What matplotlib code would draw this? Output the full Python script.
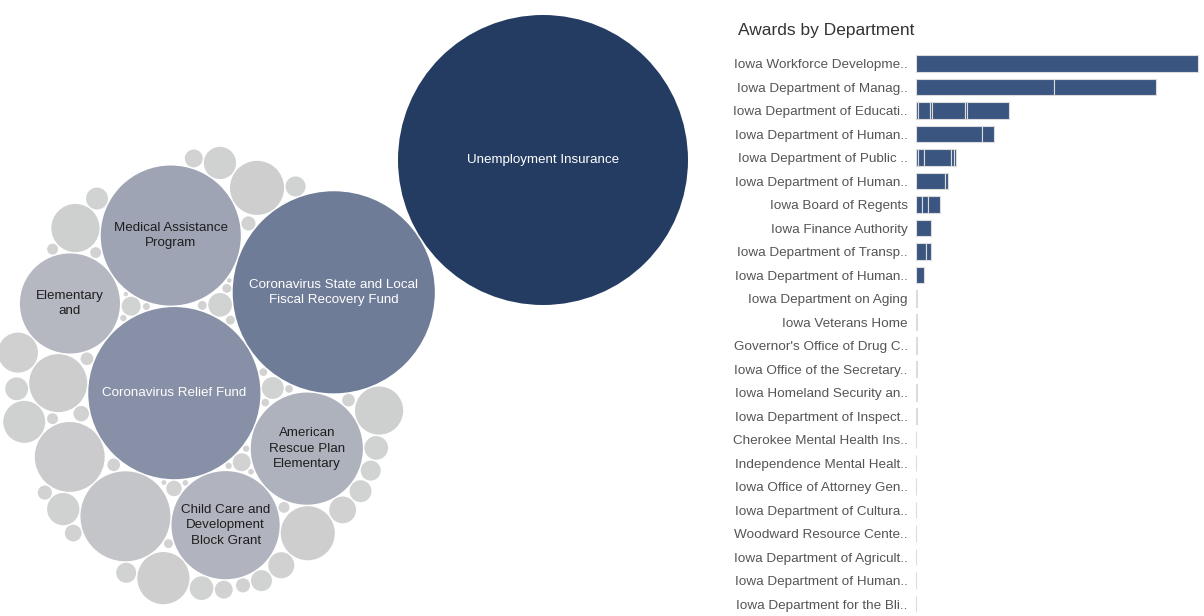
import numpy as np
import matplotlib.pyplot as plt
from matplotlib.patches import Circle
from matplotlib.colors import LinearSegmentedColormap

plt.rcParams['font.family'] = ['Liberation Sans', 'DejaVu Sans']

# ---- programs (bubble size ~ amount awarded, $M) ----
programs = ["Unemployment Insurance",
            "Coronavirus State and Local\nFiscal Recovery Fund",
            "Coronavirus Relief Fund",
            "Medical Assistance\nProgram",
            "American\nRescue Plan\nElementary",
            "Child Care and\nDevelopment\nBlock Grant",
            "Elementary\nand"]
program_values = [2100, 1020, 740, 490, 314, 292, 250]
# unlabeled smaller programs
other_values = [202, 122, 84, 73, 73, 68, 58, 58, 44, 40,
                26, 26, 18, 17, 14, 14, 14, 13, 12, 12,
                12, 11, 10, 10, 10, 9, 8, 8, 8, 7,
                6, 6, 5, 5, 5, 4, 4, 4, 3, 3,
                3, 3, 2, 2, 2, 2, 1.5, 1.5, 1.5, 1.2,
                1, 1, 1, 0.8, 0.8, 0.6, 0.5, 0.5]

# ---- awards by department (stacked segments, $M) ----
departments = ["Iowa Workforce Developme..", "Iowa Department of Manag..",
               "Iowa Department of Educati..", "Iowa Department of Human..",
               "Iowa Department of Public ..", "Iowa Department of Human..",
               "Iowa Board of Regents", "Iowa Finance Authority",
               "Iowa Department of Transp..", "Iowa Department of Human..",
               "Iowa Department on Aging", "Iowa Veterans Home",
               "Governor's Office of Drug C..", "Iowa Office of the Secretary..",
               "Iowa Homeland Security an..", "Iowa Department of Inspect..",
               "Cherokee Mental Health Ins..", "Independence Mental Healt..",
               "Iowa Office of Attorney Gen..", "Iowa Department of Cultura..",
               "Woodward Resource Cente..", "Iowa Department of Agricult..",
               "Iowa Department of Human..", "Iowa Department for the Bli.."]
dept_segments = [[2820], [1380, 1020], [20, 120, 15, 330, 25, 420], [660, 120],
                 [20, 60, 270, 25, 20], [290, 25], [60, 60, 115], [150],
                 [100, 45], [75], [14], [9], [5], [5], [5], [5], [4], [4],
                 [4], [4], [4], [4], [4], [4]]


def pack(radii, target, pad=1.5, stretch=1.15):
    # greedy packing: each circle goes to the free tangent spot nearest target
    w = np.array([stretch, 1.0])
    pos = np.zeros((len(radii), 2))
    for k in range(1, len(radii)):
        r = radii[k] + pad
        P = pos[:k]
        R = radii[:k]
        d = target - P
        n = np.linalg.norm(d, axis=1, keepdims=True)
        cands = [P + d / n * (R + r)[:, None]]
        if k >= 2:
            i, j = np.triu_indices(k, 1)
            a, b = P[i], P[j]
            ra, rb = R[i] + r, R[j] + r
            dv = b - a
            dist = np.linalg.norm(dv, axis=1)
            ok = (dist < ra + rb) & (dist > np.abs(ra - rb))
            a, dv, dist, ra, rb = a[ok], dv[ok], dist[ok], ra[ok], rb[ok]
            x = (ra ** 2 - rb ** 2 + dist ** 2) / (2 * dist)
            h = np.sqrt(np.maximum(ra ** 2 - x ** 2, 0))
            u = dv / dist[:, None]
            perp = np.stack([-u[:, 1], u[:, 0]], axis=1)
            base = a + u * x[:, None]
            cands += [base + perp * h[:, None], base - perp * h[:, None]]
        C = np.vstack(cands)
        gap = np.linalg.norm(C[:, None, :] - P[None, :, :], axis=2) - (R[None, :] + r)
        C = C[(gap >= -1e-6).all(axis=1)]
        pos[k] = C[np.argmin(np.linalg.norm((C - target) * w, axis=1))]
    return pos


values = np.array(program_values + other_values, dtype=float)
radii = 145 * np.sqrt(values / values.max())
pos = pack(radii, np.array([-340.0, -215.0]))
pos += np.array([543.0, 456.0])

cmap = LinearSegmentedColormap.from_list(
    "bub", [(0, "#d2d2d2"), (0.09, "#c6c7c9"), (0.12, "#b4b7c0"),
            (0.24, "#9ca2b3"), (0.49, "#6e7b97"), (1, "#243c62")])

fig = plt.figure(figsize=(12.04, 6.16), dpi=100)

ax = fig.add_axes([0, 0, 722 / 1204, 1])
ax.set_xlim(0, 722)
ax.set_ylim(0, 616)
ax.axis("off")
for k in range(len(values)):
    ax.add_patch(Circle(pos[k], radii[k], facecolor=cmap(values[k] / values.max()),
                        edgecolor="none"))
for k, name in enumerate(programs):
    col = "white" if values[k] >= 700 else "#1e1e1e"
    ax.text(pos[k][0], pos[k][1], name, ha="center", va="center", fontsize=9.6,
            color=col, linespacing=1.4)

fig.text(0.0, 1.012, "Awards by Program Expended", fontsize=13, color="#333333",
         ha="left", va="bottom")

# ---- bar chart ----
bx = fig.add_axes([916 / 1204, 0.0004, 288 / 1204, 564 / 616])
ypos = np.arange(len(departments))
for i, segs in enumerate(dept_segments):
    left = 0
    for s in segs:
        bx.barh(ypos[i], s, left=left, height=0.72, color="#3a5580",
                edgecolor="#dcdcdc", linewidth=0.8)
        left += s
bx.set_xlim(0, 2880)
bx.set_ylim(len(departments) - 0.5, -0.5)
bx.set_yticks(ypos)
bx.set_yticklabels(departments, fontsize=9.7, color="#555555")
bx.tick_params(axis="y", length=0, pad=6)
bx.set_xticks([])
for s in bx.spines.values():
    s.set_visible(False)

fig.text(738 / 1204, 1 - 31 / 616, "Awards by Department", fontsize=12.5,
         color="#333333", ha="left", va="center")

fig.savefig("out.png", dpi=100)
